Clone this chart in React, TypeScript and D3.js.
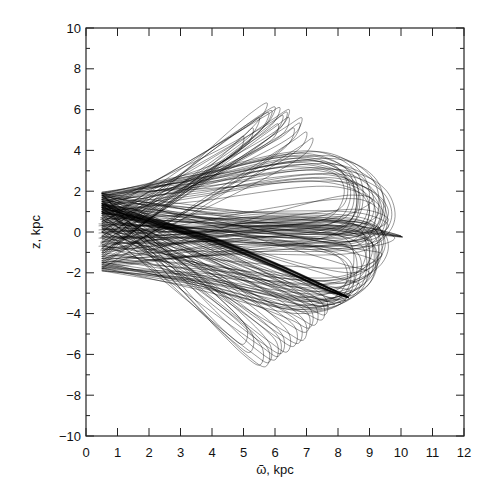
import React from 'react';
import * as d3 from 'd3';

type P = [number, number];

const xTicks = [0, 1, 2, 3, 4, 5, 6, 7, 8, 9, 10, 11, 12];
const yMajor = [-10, -8, -6, -4, -2, 0, 2, 4, 6, 8, 10];
const yMinor = [-9, -7, -5, -3, -1, 1, 3, 5, 7, 9];

// narrow excursions reaching high z
const upperLoops: P[][] = [
  [[0.45, -0.9], [5.25, 5.85], [5.75, 6.32], [5.55, 5.6], [0.5, -1.3]],
  [[0.45, -0.3], [5.5, 5.7], [6.0, 6.13], [5.8, 5.4], [0.5, -1.0]],
  [[0.5, 0.4], [5.4, 5.55], [5.9, 5.95], [5.7, 5.25], [0.45, -0.6]],
  [[0.5, -1.2], [5.8, 5.2], [6.25, 5.72], [6.05, 4.95], [0.5, -0.2]],
  [[0.45, 0.6], [5.9, 5.4], [6.38, 5.88], [6.2, 5.15], [0.5, -0.8]],
  [[0.5, -1.1], [6.0, 5.15], [6.44, 5.62], [6.3, 4.9], [0.5, 0.1]],
  [[0.5, -0.5], [6.35, 4.9], [6.79, 5.34], [6.6, 4.6], [0.5, -1.5]],
  [[0.5, 1.0], [5.05, 5.1], [5.5, 5.6], [5.3, 4.85], [0.5, 0.0]],
  [[0.5, -0.7], [5.65, 4.85], [6.1, 5.3], [5.95, 4.6], [0.5, 0.8]],
  [[0.5, 0.2], [6.15, 4.6], [6.6, 5.1], [6.45, 4.35], [0.5, -1.4]],
  [[0.5, 1.3], [4.9, 4.6], [5.3, 5.1], [5.15, 4.35], [0.5, 0.3]],
  [[0.5, -1.6], [6.6, 4.5], [7.0, 4.9], [6.85, 4.2], [0.5, -0.9]],
  [[0.5, 0.0], [5.3, 5.4], [5.8, 5.85], [5.6, 5.1], [0.5, -1.1]],
  [[0.5, -0.4], [5.95, 5.55], [6.45, 6.0], [6.25, 5.25], [0.5, 0.5]],
  [[0.5, 0.9], [5.7, 5.7], [6.15, 6.1], [5.95, 5.35], [0.5, -0.3]],
  [[0.5, -1.8], [6.8, 4.2], [7.2, 4.6], [7.0, 3.9], [0.5, -1.2]],
  [[0.5, 0.5], [4.6, 4.2], [5.0, 4.7], [4.85, 3.95], [0.5, 1.6]],
  [[0.5, -1.0], [6.4, 5.2], [6.85, 5.6], [6.65, 4.85], [0.5, 0.4]],
];

// excursions reaching low z
const lowerLoops: P[][] = [
  [[0.5, 1.6], [4.95, -5.95], [5.52, -6.52], [5.6, -5.7], [0.5, 0.8]],
  [[0.5, 1.9], [5.4, -5.75], [6.0, -6.27], [6.05, -5.4], [0.5, 0.3]],
  [[0.5, 1.2], [5.8, -5.35], [6.38, -5.88], [6.45, -5.0], [0.5, 1.8]],
  [[0.5, 0.5], [6.3, -4.85], [6.9, -5.3], [6.95, -4.4], [0.5, 1.4]],
  [[0.5, 1.7], [6.4, -4.5], [7.0, -4.9], [7.05, -4.0], [0.5, 0.0]],
  [[0.5, 1.0], [6.7, -4.15], [7.27, -4.56], [7.3, -3.7], [0.5, 1.9]],
  [[0.5, 0.2], [5.25, -5.9], [5.8, -6.4], [5.85, -5.55], [0.5, 1.5]],
  [[0.5, 1.8], [6.0, -5.1], [6.6, -5.6], [6.65, -4.7], [0.5, 0.6]],
  [[0.5, 0.9], [5.6, -5.45], [6.2, -5.95], [6.25, -5.1], [0.5, 1.3]],
  [[0.5, -0.3], [6.9, -3.95], [7.5, -4.3], [7.5, -3.5], [0.5, 1.1]],
  [[0.5, 0.7], [4.7, -5.4], [5.2, -5.9], [5.3, -5.1], [0.5, 1.6]],
  [[0.5, 1.4], [5.15, -6.1], [5.7, -6.6], [5.8, -5.8], [0.5, 0.4]],
  [[0.5, 0.0], [5.55, -5.6], [6.1, -6.1], [6.15, -5.25], [0.5, 1.0]],
  [[0.5, 1.5], [6.15, -5.0], [6.75, -5.45], [6.8, -4.55], [0.5, 0.2]],
  [[0.5, 0.6], [7.0, -3.7], [7.6, -4.05], [7.6, -3.25], [0.5, 1.7]],
  [[0.5, 1.9], [4.5, -5.0], [5.0, -5.5], [5.1, -4.7], [0.5, 1.2]],
  [[0.5, -0.6], [6.5, -4.3], [7.1, -4.7], [7.15, -3.85], [0.5, 0.8]],
];

// broad apocentre loops, upper half
const outerUpper: P[][] = [
  [[0.5, 1.9], [3.5, 2.8], [7.6, 3.9], [8.75, 2.9], [9.0, 1.6], [8.6, 0.2], [5.0, -0.3], [0.5, -0.8]],
  [[0.5, 1.7], [3.5, 2.6], [7.9, 3.7], [9.05, 2.7], [9.3, 1.4], [8.9, 0.0], [5.0, -0.2], [0.5, -0.3]],
  [[0.5, 1.5], [3.5, 2.4], [7.2, 3.5], [8.45, 2.6], [8.7, 1.5], [8.3, 0.1], [5.0, -0.6], [0.5, -1.2]],
  [[0.5, 1.95], [3.5, 2.5], [8.0, 3.3], [9.25, 2.3], [9.5, 1.0], [9.0, -0.3], [5.0, -0.5], [0.5, 0.2]],
  [[0.5, 1.3], [3.5, 2.1], [7.4, 3.0], [8.75, 2.1], [9.0, 1.0], [8.5, -0.4], [5.0, -0.7], [0.5, -1.5]],
  [[0.5, 1.8], [3.5, 2.2], [8.2, 2.8], [9.45, 1.9], [9.7, 0.7], [9.2, -0.3], [5.0, 0.0], [0.5, -0.1]],
  [[0.5, 1.1], [3.5, 1.8], [7.6, 2.6], [8.95, 1.8], [9.2, 0.8], [8.8, -0.5], [5.0, -0.9], [0.5, -1.8]],
  [[0.5, 1.6], [3.5, 2.6], [6.8, 3.6], [8.15, 2.9], [8.4, 1.8], [8.0, 0.6], [5.0, 0.0], [0.5, 0.5]],
  [[0.5, 1.9], [3.5, 2.1], [8.4, 2.4], [9.35, 1.7], [9.6, 0.9], [9.1, 0.0], [5.0, 0.3], [0.5, 0.8]],
  [[0.5, 1.4], [3.5, 2.3], [6.5, 3.2], [7.95, 2.8], [8.2, 2.0], [7.8, 0.8], [5.0, 0.2], [0.5, -0.4]],
  [[0.5, 1.75], [3.5, 2.8], [7.0, 3.85], [8.25, 3.1], [8.5, 2.2], [8.3, 0.8], [5.0, -0.1], [0.5, -1.0]],
  [[0.5, 1.0], [3.5, 1.5], [8.0, 2.2], [9.25, 1.4], [9.5, 0.5], [9.0, -0.6], [5.0, -1.0], [0.5, -1.6]],
  [[0.5, 1.85], [3.5, 2.9], [7.3, 3.95], [8.55, 3.0], [8.8, 1.8], [8.5, 0.5], [5.0, 0.1], [0.5, 0.0]],
  [[0.5, 1.65], [3.5, 2.3], [7.8, 3.1], [9.1, 2.1], [9.4, 0.9], [9.0, -0.2], [5.0, -0.4], [0.5, -0.6]],
  [[0.5, 1.2], [3.5, 2.2], [7.0, 3.3], [8.35, 2.5], [8.6, 1.4], [8.2, 0.3], [5.0, -0.3], [0.5, -0.9]],
  [[0.5, 1.9], [3.5, 2.4], [8.3, 3.0], [9.55, 2.0], [9.8, 0.6], [9.3, -0.4], [5.0, -0.6], [0.5, -0.5]],
  [[0.5, 1.45], [3.5, 2.7], [6.6, 3.7], [7.95, 3.2], [8.3, 2.3], [8.1, 1.2], [5.0, 0.4], [0.5, 0.9]],
  [[0.5, 1.55], [3.5, 2.0], [8.1, 2.6], [9.35, 1.6], [9.55, 0.3], [9.0, -0.8], [5.0, -1.1], [0.5, -1.3]],
  [[0.5, 1.8], [3.5, 2.55], [7.5, 3.45], [8.85, 2.55], [9.15, 1.2], [8.8, 0.2], [5.0, 0.1], [0.5, 1.4]],
  [[0.5, 1.25], [3.5, 1.9], [7.7, 2.8], [9.0, 2.0], [9.35, 0.9], [8.9, -0.2], [5.0, -0.5], [0.5, -0.2]],
  [[0.5, 1.7], [3.5, 2.75], [7.1, 3.75], [8.4, 2.95], [8.65, 1.85], [8.4, 0.6], [5.0, -0.4], [0.5, -1.4]],
  [[0.5, 0.9], [3.5, 1.7], [7.2, 2.5], [8.7, 1.9], [9.0, 1.0], [8.6, 0.0], [5.0, -0.2], [0.5, 0.3]],
  [[0.5, 1.95], [3.5, 2.65], [8.1, 3.55], [9.2, 2.6], [9.45, 1.3], [9.1, 0.1], [5.0, -0.8], [0.5, -1.7]],
  [[0.5, 1.35], [3.5, 2.45], [6.9, 3.4], [8.3, 2.7], [8.6, 1.6], [8.2, 0.2], [5.0, -0.9], [0.5, -0.7]],
];

// broad apocentre loops, lower half
const outerLower: P[][] = [
  [[0.5, -1.85], [3.5, -2.6], [7.2, -3.9], [8.5, -3.1], [8.9, -1.9], [8.7, -0.6], [5.0, 0.3], [0.5, 0.9]],
  [[0.5, -1.7], [3.5, -2.4], [7.6, -3.6], [8.9, -2.7], [9.2, -1.6], [9.0, -0.4], [5.0, 0.4], [0.5, 1.5]],
  [[0.5, -1.5], [3.5, -2.2], [7.0, -3.4], [8.3, -2.9], [8.6, -1.9], [8.4, -0.8], [5.0, 0.0], [0.5, 0.4]],
  [[0.5, -1.9], [3.5, -2.3], [7.9, -3.2], [9.0, -2.3], [9.3, -1.2], [9.0, 0.1], [5.0, 0.5], [0.5, 1.1]],
  [[0.5, -1.2], [3.5, -1.9], [7.5, -2.9], [8.7, -2.2], [9.0, -1.2], [8.8, -0.1], [5.0, 0.6], [0.5, 1.9]],
  [[0.5, -1.8], [3.5, -2.1], [8.0, -2.7], [9.1, -1.9], [9.4, -0.9], [9.1, 0.2], [5.0, 0.7], [0.5, 1.3]],
  [[0.5, -1.0], [3.5, -1.7], [7.3, -2.6], [8.6, -2.0], [8.9, -0.9], [8.6, 0.3], [5.0, 0.9], [0.5, 1.7]],
  [[0.5, -1.6], [3.5, -2.5], [6.6, -3.6], [7.9, -3.2], [8.3, -2.2], [8.0, -1.2], [5.0, -0.2], [0.5, 0.1]],
  [[0.5, -1.4], [3.5, -1.8], [8.2, -2.3], [9.2, -1.5], [9.5, -0.6], [9.2, 0.3], [5.0, 0.8], [0.5, 1.6]],
  [[0.5, -1.75], [3.5, -2.8], [6.8, -4.0], [8.1, -3.5], [8.5, -2.5], [8.3, -1.3], [5.0, -0.4], [0.5, 0.6]],
  [[0.5, -1.9], [3.5, -2.7], [7.4, -3.8], [8.7, -2.9], [9.0, -1.6], [8.8, -0.3], [5.0, 0.2], [0.5, 0.0]],
  [[0.5, -1.65], [3.5, -2.2], [7.8, -3.0], [9.0, -2.1], [9.3, -0.9], [9.1, 0.3], [5.0, 1.0], [0.5, 1.9]],
  [[0.5, -1.3], [3.5, -2.1], [6.9, -3.2], [8.2, -2.6], [8.5, -1.5], [8.3, -0.4], [5.0, 0.5], [0.5, 1.2]],
  [[0.5, -1.8], [3.5, -2.5], [7.0, -3.7], [8.3, -3.2], [8.7, -2.2], [8.6, -1.0], [5.0, -0.1], [0.5, 0.7]],
  [[0.5, -1.1], [3.5, -1.6], [8.0, -2.2], [9.15, -1.4], [9.45, -0.4], [9.1, 0.5], [5.0, 1.0], [0.5, 1.5]],
  [[0.5, -1.55], [3.5, -2.35], [7.6, -3.3], [8.85, -2.5], [9.15, -1.3], [8.9, -0.2], [5.0, 0.3], [0.5, 0.3]],
  [[0.5, -1.75], [3.5, -2.0], [8.1, -2.5], [9.3, -1.7], [9.6, -0.7], [9.3, 0.2], [5.0, 0.6], [0.5, 0.9]],
  [[0.5, -0.8], [3.5, -1.5], [7.5, -2.4], [8.8, -1.8], [9.1, -0.8], [8.8, 0.2], [5.0, 0.7], [0.5, 1.8]],
  [[0.5, -1.45], [3.5, -2.6], [6.7, -3.8], [8.0, -3.3], [8.4, -2.4], [8.2, -1.4], [5.0, -0.5], [0.5, -0.2]],
  [[0.5, -1.9], [3.5, -2.4], [7.7, -3.4], [8.95, -2.6], [9.25, -1.5], [9.05, -0.5], [5.0, 0.2], [0.5, 1.4]],
];

// hairpins turning round near the right edge at moderate z
const rightLoops: P[][] = [
  [[0.5, 1.6], [8.5, -0.8], [9.4, -1.1], [8.7, -1.7], [0.5, -0.7]],
  [[0.5, 0.6], [8.8, 0.9], [9.6, 0.3], [8.9, -0.3], [0.5, -1.5]],
  [[0.5, -0.5], [8.7, 1.6], [9.3, 1.0], [8.8, 0.4], [0.5, 1.3]],
  [[0.5, 1.9], [8.2, -1.6], [9.0, -2.0], [8.3, -2.5], [0.5, 0.2]],
  [[0.5, -1.3], [8.6, 0.5], [9.5, -0.2], [8.7, -0.8], [0.5, 1.0]],
  [[0.5, 1.2], [7.9, -2.2], [8.7, -2.6], [8.0, -3.0], [0.5, -0.2]],
  [[0.5, 0.1], [8.9, 0.2], [9.8, -0.3], [9.0, -0.7], [0.5, 1.8]],
  [[0.5, -1.7], [8.3, 1.8], [9.1, 1.6], [8.4, 0.9], [0.5, -0.6]],
  [[0.5, 0.8], [8.4, -1.0], [9.2, -1.5], [8.5, -2.0], [0.5, 1.5]],
  [[0.5, -0.9], [8.8, 1.1], [9.6, 0.6], [8.9, 0.0], [0.5, 0.5]],
  [[0.5, 1.4], [7.6, -2.6], [8.4, -2.9], [7.7, -3.35], [0.5, 0.9]],
];

// lines running beside the dense diagonal bundle
const bandCompanions: P[][] = [
  [[0.5, 1.7], [4.0, -0.9], [7.5, -3.1], [8.1, -3.45], [7.4, -3.3], [4.0, -1.3], [0.5, 1.0]],
  [[0.5, 1.5], [4.0, -1.0], [7.3, -3.2], [7.9, -3.55], [7.2, -3.4], [4.0, -1.5], [0.5, 0.7]],
  [[0.5, 1.9], [4.0, -0.7], [7.7, -2.95], [8.25, -3.35], [7.6, -3.15], [4.0, -1.1], [0.5, 1.4]],
  [[0.5, 0.9], [4.0, -1.2], [7.1, -3.3], [7.7, -3.65], [7.0, -3.5], [4.0, -1.7], [0.5, 0.3]],
  [[0.5, 1.6], [4.0, -0.6], [7.8, -2.8], [8.4, -3.1], [7.8, -3.0], [4.0, -0.8], [0.5, 1.8]],
  [[0.5, 1.1], [4.0, -1.4], [6.9, -3.4], [7.5, -3.75], [6.8, -3.6], [4.0, -1.9], [0.5, 0.0]],
];

// dense diagonal bundle ending near (8.32, -3.19)
const diagBand: P[][] = [
  [[0.5, 1.3], [2.0, 0.62], [4.0, -0.3], [6.0, -1.55], [7.6, -2.68], [8.34, -3.2], [7.6, -2.8], [6.0, -1.68], [4.0, -0.45], [2.0, 0.45], [0.5, 1.05]],
  [[0.5, 1.35], [2.0, 0.66], [4.0, -0.27], [6.0, -1.53], [7.6, -2.66], [8.3, -3.18], [7.6, -2.79], [6.0, -1.66], [4.0, -0.42], [2.0, 0.5], [0.5, 1.12]],
  [[0.5, 1.22], [2.0, 0.58], [4.0, -0.33], [6.0, -1.57], [7.6, -2.7], [8.32, -3.21], [7.6, -2.82], [6.0, -1.7], [4.0, -0.48], [2.0, 0.42], [0.5, 1.0]],
  [[0.5, 1.4], [2.0, 0.7], [4.0, -0.25], [6.0, -1.52], [7.6, -2.65], [8.28, -3.16], [7.6, -2.78], [6.0, -1.65], [4.0, -0.4], [2.0, 0.52], [0.5, 1.18]],
  [[0.5, 1.18], [2.0, 0.55], [4.0, -0.35], [6.0, -1.58], [7.6, -2.71], [8.33, -3.22], [7.6, -2.83], [6.0, -1.72], [4.0, -0.5], [2.0, 0.4], [0.5, 0.96]],
  [[0.5, 1.28], [2.0, 0.64], [4.0, -0.29], [6.0, -1.54], [7.6, -2.67], [8.31, -3.19], [7.6, -2.8], [6.0, -1.67], [4.0, -0.44], [2.0, 0.47], [0.5, 1.08]],
  [[0.5, 1.15], [2.0, 0.6], [4.0, -0.31], [6.0, -1.56], [7.6, -2.69], [8.29, -3.19], [7.6, -2.81], [6.0, -1.69], [4.0, -0.46], [2.0, 0.44], [0.5, 1.25]],
  [[0.5, 1.33], [2.0, 0.68], [4.0, -0.26], [6.0, -1.51], [7.6, -2.64], [8.35, -3.23], [7.6, -2.84], [6.0, -1.73], [4.0, -0.52], [2.0, 0.38], [0.5, 0.98]],
  [[0.5, 1.1], [2.0, 0.57], [4.0, -0.32], [6.0, -1.55], [7.6, -2.68], [8.3, -3.18], [7.6, -2.79], [6.0, -1.67], [4.0, -0.43], [2.0, 0.49], [0.5, 1.32]],
  [[0.5, 1.25], [2.0, 0.63], [4.0, -0.28], [6.0, -1.53], [7.6, -2.66], [8.33, -3.2], [7.6, -2.8], [6.0, -1.68], [4.0, -0.47], [2.0, 0.43], [0.5, 1.02]],
  [[0.5, 1.38], [2.0, 0.72], [4.0, -0.22], [6.0, -1.49], [7.6, -2.63], [8.27, -3.15], [7.6, -2.77], [6.0, -1.62], [4.0, -0.38], [2.0, 0.55], [0.5, 1.2]],
  [[0.5, 1.2], [2.0, 0.52], [4.0, -0.37], [6.0, -1.6], [7.6, -2.72], [8.34, -3.22], [7.6, -2.85], [6.0, -1.75], [4.0, -0.54], [2.0, 0.36], [0.5, 0.95]],
];

// bundle converging on the outer tip near (10.05, -0.24)
const midBand: P[][] = [
  [[0.4, -0.05], [3.0, 0.2], [6.5, 0.5], [8.8, 0.15], [10.05, -0.24], [8.8, -0.02], [6.0, 0.1], [3.0, -0.1], [0.4, -0.3]],
  [[0.4, 0.1], [3.0, 0.45], [6.5, 0.75], [8.8, 0.28], [10.02, -0.22], [8.8, 0.05], [6.0, 0.3], [3.0, 0.2], [0.4, 0.4]],
  [[0.45, -0.5], [3.0, -0.1], [6.5, 0.35], [8.8, 0.1], [10.05, -0.25], [8.8, -0.08], [6.0, -0.05], [3.0, -0.3], [0.4, -0.7]],
  [[0.4, 0.3], [3.0, 0.6], [6.5, 0.65], [8.8, 0.25], [10.0, -0.2], [8.8, 0.0], [6.0, 0.4], [3.0, 0.5], [0.45, 0.7]],
];

const lineColor = '#000';

export default function App() {
  const W = 491;
  const H = 491;
  const left = 86;
  const right = 464;
  const top = 28;
  const bottom = 436;
  const x = d3.scaleLinear().domain([0, 12]).range([left, right]);
  const y = d3.scaleLinear().domain([-10, 10]).range([bottom, top]);
  const path = d3
    .line<P>()
    .x((d) => x(d[0]))
    .y((d) => y(d[1]))
    .curve(d3.curveCatmullRom.alpha(0.5));

  const strands: P[][] = [
    ...outerUpper,
    ...outerLower,
    ...rightLoops,
    ...upperLoops,
    ...lowerLoops,
    ...bandCompanions,
    ...midBand,
    ...diagBand,
  ];

  const font = 'Liberation Sans, Arial, Helvetica, sans-serif';
  const axisColor = '#222';

  return (
    <svg
      width={W}
      height={H}
      style={{ position: 'absolute', left: 0, top: 0, background: '#fff' }}
    >
      <defs>
        <clipPath id="plotClip">
          <rect x={left} y={top} width={right - left} height={bottom - top} />
        </clipPath>
      </defs>
      <g clipPath="url(#plotClip)">
        {strands.map((s, i) => (
          <path
            key={i}
            d={path(s) || ''}
            fill="none"
            stroke={lineColor}
            strokeOpacity={0.58}
            strokeWidth={0.7}
          />
        ))}
      </g>
      <rect
        x={left}
        y={top}
        width={right - left}
        height={bottom - top}
        fill="none"
        stroke={axisColor}
        strokeWidth={1.2}
      />
      {xTicks.map((t) => (
        <g key={'x' + t}>
          <line x1={x(t)} x2={x(t)} y1={bottom} y2={bottom - 8} stroke={axisColor} strokeWidth={1} />
          <line x1={x(t)} x2={x(t)} y1={top} y2={top + 8} stroke={axisColor} strokeWidth={1} />
          <text x={x(t)} y={457} textAnchor="middle" fontFamily={font} fontSize={13} fill="#111">
            {t}
          </text>
        </g>
      ))}
      {yMajor.map((t) => (
        <g key={'y' + t}>
          <line x1={left} x2={left + 8} y1={y(t)} y2={y(t)} stroke={axisColor} strokeWidth={1} />
          <line x1={right} x2={right - 8} y1={y(t)} y2={y(t)} stroke={axisColor} strokeWidth={1} />
          <text
            x={81}
            y={y(t)}
            dy="0.36em"
            textAnchor="end"
            fontFamily={font}
            fontSize={13}
            fill="#111"
          >
            {t < 0 ? '\u2212' + Math.abs(t) : String(t)}
          </text>
        </g>
      ))}
      {yMinor.map((t) => (
        <g key={'ym' + t}>
          <line x1={left} x2={left + 4} y1={y(t)} y2={y(t)} stroke={axisColor} strokeWidth={1} />
          <line x1={right} x2={right - 4} y1={y(t)} y2={y(t)} stroke={axisColor} strokeWidth={1} />
        </g>
      ))}
      <text
        x={(left + right) / 2}
        y={474}
        textAnchor="middle"
        fontFamily={font}
        fontSize={13}
        fill="#111"
      >
        {'\u1FF6, kpc'}
      </text>
      <text
        transform={`translate(40, ${y(0)}) rotate(-90)`}
        textAnchor="middle"
        fontFamily={font}
        fontSize={13}
        fill="#111"
      >
        z, kpc
      </text>
    </svg>
  );
}
